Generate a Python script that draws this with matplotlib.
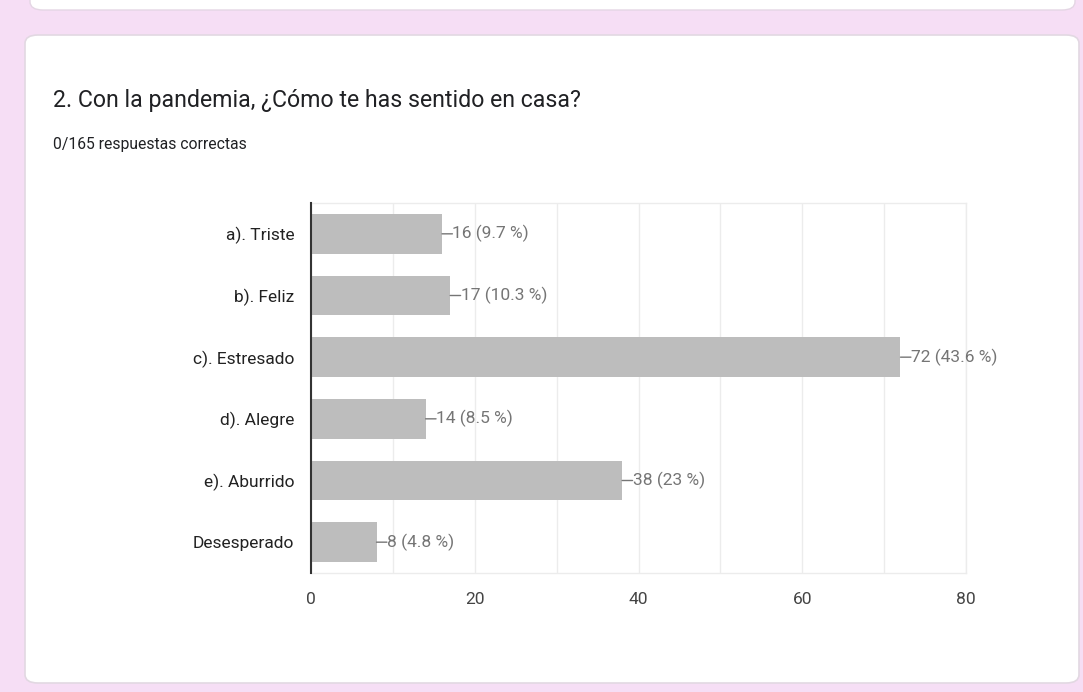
import matplotlib
matplotlib.use("Agg")
import matplotlib.pyplot as plt
from matplotlib.patches import FancyBboxPatch

# answers to question 2 of the survey
categories = ["a). Triste", "b). Feliz", "c). Estresado", "d). Alegre", "e). Aburrido", "Desesperado"]
counts = [16, 17, 72, 14, 38, 8]
percents = ["9.7", "10.3", "43.6", "8.5", "23", "4.8"]
x_ticks = [0, 20, 40, 60, 80]

title = "2. Con la pandemia, ¿Cómo te has sentido en casa?"
subtitle = "0/165 respuestas correctas"

W, H = 1083, 692
plt.rcParams["font.family"] = ["Roboto", "DejaVu Sans"]

PINK = "#f6def5"
BAR = "#bdbdbd"
GRID = "#ececec"
LABEL = "#757575"


def fx(px):
    return px / W


def fy(py):
    return 1 - py / H


fig = plt.figure(figsize=(W / 100, H / 100), dpi=100)
fig.patch.set_facecolor(PINK)

# bottom of the previous card, then the card holding this chart
prev = FancyBboxPatch((fx(30), fy(10)), fx(1075) - fx(30), 0.05,
                      boxstyle="round,pad=0,rounding_size=0.012",
                      transform=fig.transFigure, facecolor="white",
                      edgecolor="#e4d6e4", linewidth=1.0, zorder=-2)
card = FancyBboxPatch((fx(25), fy(683)), fx(1079) - fx(25), fy(35) - fy(683),
                      boxstyle="round,pad=0,rounding_size=0.012",
                      transform=fig.transFigure, facecolor="white",
                      edgecolor="#e2d8e2", linewidth=1.2, zorder=-2)
fig.patches.extend([prev, card])

fig.text(fx(53), fy(100), title, fontsize=16.7, color="#202124", va="center", ha="left")
fig.text(fx(53), fy(145), subtitle, fontsize=11.3, color="#202124", va="center", ha="left")

ax = fig.add_axes([fx(311), fy(573), fx(966) - fx(311), fy(203) - fy(573)])
ax.set_facecolor("none")
ax.set_zorder(2)

ypos = list(range(len(categories)))
ax.barh(ypos, counts, height=0.64, color=BAR, zorder=2)

# short leader line from the bar end, then the count and share
for y, c, p in zip(ypos, counts, percents):
    ax.annotate("", xy=(c, y), xytext=(7.5, 0), textcoords="offset points",
                arrowprops=dict(arrowstyle="-", color=LABEL, lw=1.0,
                                shrinkA=0, shrinkB=0), zorder=3)
    ax.annotate(f"{c} ({p} %)", xy=(c, y), xytext=(7.5, 0), textcoords="offset points",
                ha="left", va="center", fontsize=12.5, color=LABEL, zorder=3)

ax.set_xlim(0, 80)
ax.set_ylim(len(categories) - 0.5, -0.5)
ax.set_yticks(ypos)
ax.set_yticklabels(categories, fontsize=12.5, color="#222222")
ax.set_xticks(x_ticks)
ax.set_xticklabels([str(t) for t in x_ticks], fontsize=12.5, color="#444444")
ax.set_xticks([10, 30, 50, 70], minor=True)
ax.tick_params(axis="both", which="both", length=0)
ax.tick_params(axis="x", pad=14)
ax.tick_params(axis="y", pad=12)
ax.grid(axis="x", which="both", color=GRID, linewidth=1.0, zorder=1)

for side in ["top", "right", "bottom"]:
    ax.spines[side].set_color(GRID)
    ax.spines[side].set_linewidth(1.0)
ax.spines["left"].set_color("#333333")
ax.spines["left"].set_linewidth(1.5)
ax.spines["left"].set_zorder(4)

fig.savefig("out.png", dpi=100, facecolor=fig.get_facecolor())
